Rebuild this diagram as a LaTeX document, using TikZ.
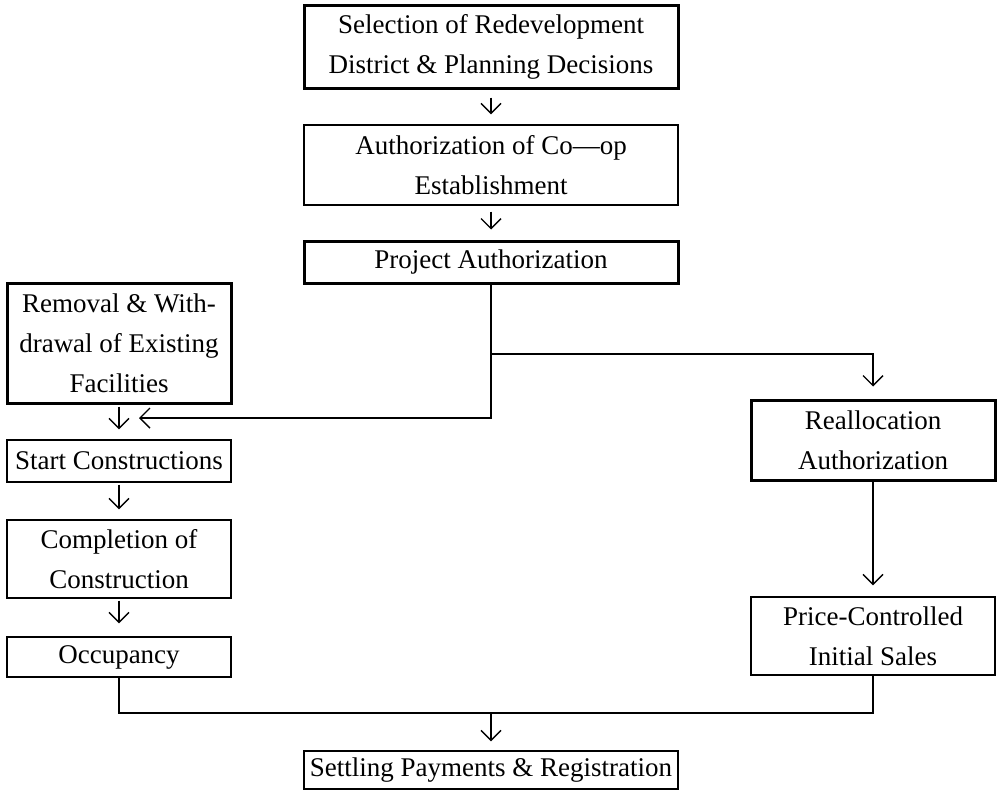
\documentclass[tikz,border=0pt]{standalone}
\usepackage{fontspec}
\setmainfont{Liberation Serif}
\usetikzlibrary{arrows.meta,calc}
\begin{document}
\begin{tikzpicture}[x=1pt,y=-1pt,
  box/.style={draw,line width=1.4pt,rectangle,inner sep=0pt,align=center,
    font=\fontsize{27}{40}\selectfont},
  thickbox/.style={box,line width=3pt},
  conn/.style={line width=1.4pt},
  flow/.style={conn,-{Straight Barb[length=10pt,width=20pt,line width=1.4pt]}}]
\useasboundingbox (0,0) rectangle (1000,790);

% central column
\node[thickbox,minimum width=374pt,minimum height=83pt] (sel) at (491,46.5)
  {Selection of Redevelopment\\District \& Planning Decisions};
\node[box,minimum width=374pt,minimum height=80pt] (coop) at (491,165)
  {Authorization of Co—op\\Establishment};
\node[thickbox,minimum width=374pt,minimum height=42pt] (proj) at (491,262)
  {Project Authorization};

% left column
\node[thickbox,minimum width=224pt,minimum height=120pt] (rem) at (119,343)
  {Removal \& With-\\drawal of Existing\\Facilities};
\node[box,minimum width=224pt,minimum height=42pt] (start) at (119,461)
  {Start Constructions};
\node[box,minimum width=224pt,minimum height=78pt] (comp) at (119,559)
  {Completion of\\Construction};
\node[box,minimum width=224pt,minimum height=40pt] (occ) at (119,657)
  {Occupancy};

% right column
\node[thickbox,minimum width=244pt,minimum height=80pt] (realloc) at (873,440)
  {Reallocation\\Authorization};
\node[box,minimum width=244pt,minimum height=78pt] (price) at (873,636)
  {Price-Controlled\\Initial Sales};

% final step
\node[box,minimum width=374pt,minimum height=38pt] (settle) at (491,770)
  {Settling Payments \& Registration};

% connectors
\draw[flow,shorten <=8pt,shorten >=10pt] (sel.south) -- (coop.north);
\draw[flow,shorten <=6pt,shorten >=10pt] (coop.south) -- (proj.north);

\coordinate (lefttip) at (139,418);
\coordinate (branch) at (491,354);
\draw[flow] (proj.south) |- (lefttip);
\draw[flow,shorten >=12pt] (branch) -| (realloc.north);

\draw[flow,shorten <=2pt,shorten >=10pt] (rem.south) -- (start.north);
\draw[flow,shorten <=2pt,shorten >=10pt] (start.south) -- (comp.north);
\draw[flow,shorten <=2pt,shorten >=13pt] (comp.south) -- (occ.north);

\draw[flow,shorten >=11pt] (realloc.south) -- (price.north);

\coordinate (join) at (491,713);
\draw[conn] (occ.south) |- (join) -| (price.south);
\draw[flow,shorten >=9pt] (join) -- (settle.north);
\end{tikzpicture}
\end{document}
